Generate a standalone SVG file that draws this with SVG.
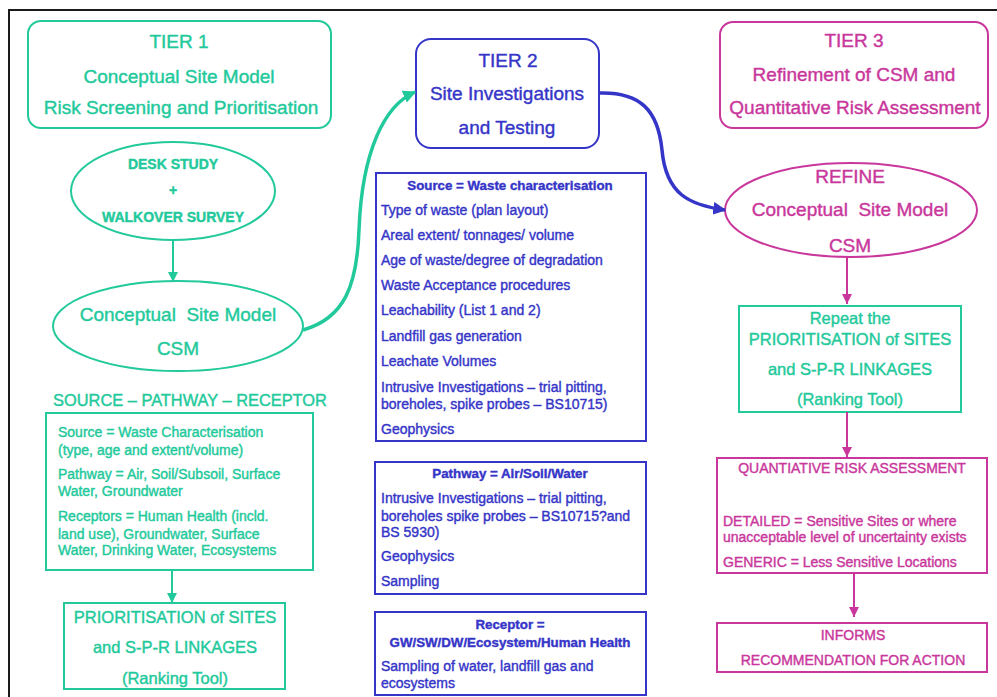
<svg xmlns="http://www.w3.org/2000/svg" width="997" height="697" viewBox="0 0 997 697">
<defs>
<style>
text{font-family:"Liberation Sans",Arial,sans-serif;stroke-width:0.4;}
.g{fill:#22c99b;stroke:#22c99b;}
.b{fill:#3535c8;stroke:#3535c8;}
.m{fill:#c9379c;stroke:#c9379c;}
.gs{fill:none;stroke:#22c99b;stroke-width:2;}
.bs{fill:none;stroke:#3535c8;stroke-width:2;}
.ms{fill:none;stroke:#c9379c;stroke-width:2;}
.big{font-size:19px;}
.mid{font-size:16.5px;}
.sm{font-size:14px;}
.hd{font-size:13.3px;font-weight:bold;}
.c{text-anchor:middle;}
</style>
<marker id="ag" viewBox="0 0 10 10" refX="10" refY="5" markerWidth="10" markerHeight="10" markerUnits="userSpaceOnUse" orient="auto"><path d="M0,0 L10,5 L0,10 z" fill="#22c99b"/></marker>
<marker id="am" viewBox="0 0 10 10" refX="10" refY="5" markerWidth="10" markerHeight="10" markerUnits="userSpaceOnUse" orient="auto"><path d="M0,0 L10,5 L0,10 z" fill="#c9379c"/></marker>
<marker id="agc" viewBox="0 0 10 10" refX="9" refY="5" markerWidth="13" markerHeight="13" markerUnits="userSpaceOnUse" orient="auto"><path d="M0,0 L10,5 L0,10 z" fill="#22c99b"/></marker>
<marker id="abc" viewBox="0 0 10 10" refX="9" refY="5" markerWidth="13" markerHeight="13" markerUnits="userSpaceOnUse" orient="auto"><path d="M0,0 L10,5 L0,10 z" fill="#3535c8"/></marker>
</defs>
<rect width="997" height="697" fill="#ffffff"/>
<g id="frame"><path d="M9,697 L9,10 L997,10" fill="none" stroke="#1a1a1a" stroke-width="2"/></g>

<g id="tier1">
<rect x="28" y="21" width="303" height="107" rx="13" class="gs"/>
<text x="179" y="48" class="g big c">TIER 1</text>
<text x="179" y="83" class="g big c">Conceptual Site Model</text>
<text x="181" y="114" class="g big c">Risk Screening and Prioritisation</text>
</g>

<g id="desk">
<ellipse cx="173" cy="191" rx="102" ry="49" class="gs" stroke-width="1.5"/>
<text x="173" y="169" class="g sm c" font-weight="bold">DESK STUDY</text>
<text x="173" y="195" class="g sm c" font-weight="bold">+</text>
<text x="173" y="222" class="g sm c" font-weight="bold">WALKOVER SURVEY</text>
</g>

<g id="csm1">
<ellipse cx="178" cy="326" rx="125" ry="45" class="gs" stroke-width="1.5"/>
<text x="178" y="321" class="g big c" xml:space="preserve">Conceptual  Site Model</text>
<text x="178" y="355" class="g big c">CSM</text>
</g>

<g id="spr">
<text x="190" y="406" class="g c" font-size="16.4px">SOURCE –  PATHWAY – RECEPTOR</text>
<rect x="46" y="413" width="267" height="157" class="gs"/>
<text x="58" y="437" class="g sm">Source = Waste Characterisation</text>
<text x="58" y="455" class="g sm">(type, age and extent/volume)</text>
<text x="58" y="479" class="g sm">Pathway = Air, Soil/Subsoil, Surface</text>
<text x="58" y="496" class="g sm">Water, Groundwater</text>
<text x="58" y="521" class="g sm">Receptors = Human Health (incld.</text>
<text x="58" y="539" class="g sm">land use), Groundwater, Surface</text>
<text x="58" y="555" class="g sm">Water, Drinking Water, Ecosystems</text>
</g>

<g id="prior1">
<rect x="64" y="603" width="221" height="86" class="gs"/>
<text x="175" y="623" class="g mid c">PRIORITISATION of SITES</text>
<text x="175" y="653" class="g mid c">and S-P-R LINKAGES</text>
<text x="175" y="684" class="g mid c">(Ranking Tool)</text>
</g>

<g id="tier2">
<rect x="416" y="39" width="183" height="109" rx="15" class="bs"/>
<text x="508" y="67" class="b big c">TIER 2</text>
<text x="507" y="100" class="b big c">Site Investigations</text>
<text x="507" y="134" class="b big c">and Testing</text>
</g>

<g id="source">
<rect x="376" y="173" width="270" height="268" class="bs"/>
<text x="510" y="190" class="b hd c">Source = Waste characterisation</text>
<text x="381" y="215" class="b sm">Type of waste (plan layout)</text>
<text x="381" y="240" class="b sm">Areal extent/ tonnages/ volume</text>
<text x="381" y="265" class="b sm">Age of waste/degree of degradation</text>
<text x="381" y="290" class="b sm">Waste Acceptance procedures</text>
<text x="381" y="315" class="b sm">Leachability (List 1 and 2)</text>
<text x="381" y="341" class="b sm">Landfill gas generation</text>
<text x="381" y="366" class="b sm">Leachate Volumes</text>
<text x="381" y="392" class="b sm">Intrusive Investigations – trial pitting,</text>
<text x="381" y="409" class="b sm">boreholes, spike probes – BS10715)</text>
<text x="381" y="434" class="b sm">Geophysics</text>
</g>

<g id="pathway">
<rect x="375" y="462" width="271" height="132" class="bs"/>
<text x="510" y="478" class="b hd c">Pathway = Air/Soil/Water</text>
<text x="381" y="503" class="b sm">Intrusive Investigations – trial pitting,</text>
<text x="381" y="521" class="b sm">boreholes spike probes – BS10715?and</text>
<text x="381" y="537" class="b sm">BS 5930)</text>
<text x="381" y="561" class="b sm">Geophysics</text>
<text x="381" y="586" class="b sm">Sampling</text>
</g>

<g id="receptor">
<rect x="375" y="612" width="271" height="83" class="bs"/>
<text x="510" y="629" class="b hd c">Receptor =</text>
<text x="510" y="647" class="b hd c">GW/SW/DW/Ecosystem/Human Health</text>
<text x="381" y="671" class="b sm">Sampling of water, landfill gas and</text>
<text x="381" y="688" class="b sm">ecosystems</text>
</g>

<g id="tier3">
<rect x="720" y="22" width="268" height="106" rx="13" class="ms"/>
<text x="854" y="47" class="m big c">TIER 3</text>
<text x="854" y="81" class="m big c">Refinement of CSM and</text>
<text x="855" y="114" class="m big c">Quantitative Risk Assessment</text>
</g>

<g id="refine">
<ellipse cx="851" cy="210" rx="126" ry="47" class="ms" stroke-width="1.5"/>
<text x="850" y="183" class="m big c">REFINE</text>
<text x="850" y="216" class="m big c" xml:space="preserve">Conceptual  Site Model</text>
<text x="850" y="252" class="m big c">CSM</text>
</g>

<g id="repeat">
<rect x="739" y="306" width="222" height="106" class="gs"/>
<text x="850" y="324" class="g mid c">Repeat the</text>
<text x="850" y="345" class="g mid c">PRIORITISATION of SITES</text>
<text x="850" y="375" class="g mid c">and S-P-R LINKAGES</text>
<text x="850" y="405" class="g mid c">(Ranking Tool)</text>
</g>

<g id="qra">
<rect x="717" y="458" width="270" height="115" class="ms"/>
<text x="852" y="473" class="m sm c">QUANTIATIVE RISK ASSESSMENT</text>
<text x="723" y="526" class="m sm">DETAILED = Sensitive Sites or where</text>
<text x="723" y="542" class="m sm">unacceptable level of uncertainty exists</text>
<text x="723" y="567" class="m sm">GENERIC = Less Sensitive Locations</text>
</g>

<g id="informs">
<rect x="717" y="623" width="270" height="49" class="ms"/>
<text x="853" y="640" class="m sm c">INFORMS</text>
<text x="853" y="665" class="m sm c">RECOMMENDATION FOR ACTION</text>
</g>

<g id="connectors">
<line x1="173" y1="240" x2="173" y2="282" class="gs" marker-end="url(#ag)"/>
<line x1="172" y1="570" x2="172" y2="603" class="gs" marker-end="url(#ag)"/>
<path d="M303,330 C345,318 357,285 359,230 C362,150 385,105 415,92" fill="none" stroke="#22c99b" stroke-width="3.5" marker-end="url(#agc)"/>
<path d="M600,93 C640,92 658,110 662,150 C666,195 690,205 725,210" fill="none" stroke="#3535c8" stroke-width="3.5" marker-end="url(#abc)"/>
<line x1="847" y1="257" x2="847" y2="304" class="ms" marker-end="url(#am)"/>
<line x1="847" y1="412" x2="847" y2="457" class="ms" marker-end="url(#am)"/>
<line x1="854" y1="573" x2="854" y2="617" class="ms" marker-end="url(#am)"/>
</g>
</svg>
